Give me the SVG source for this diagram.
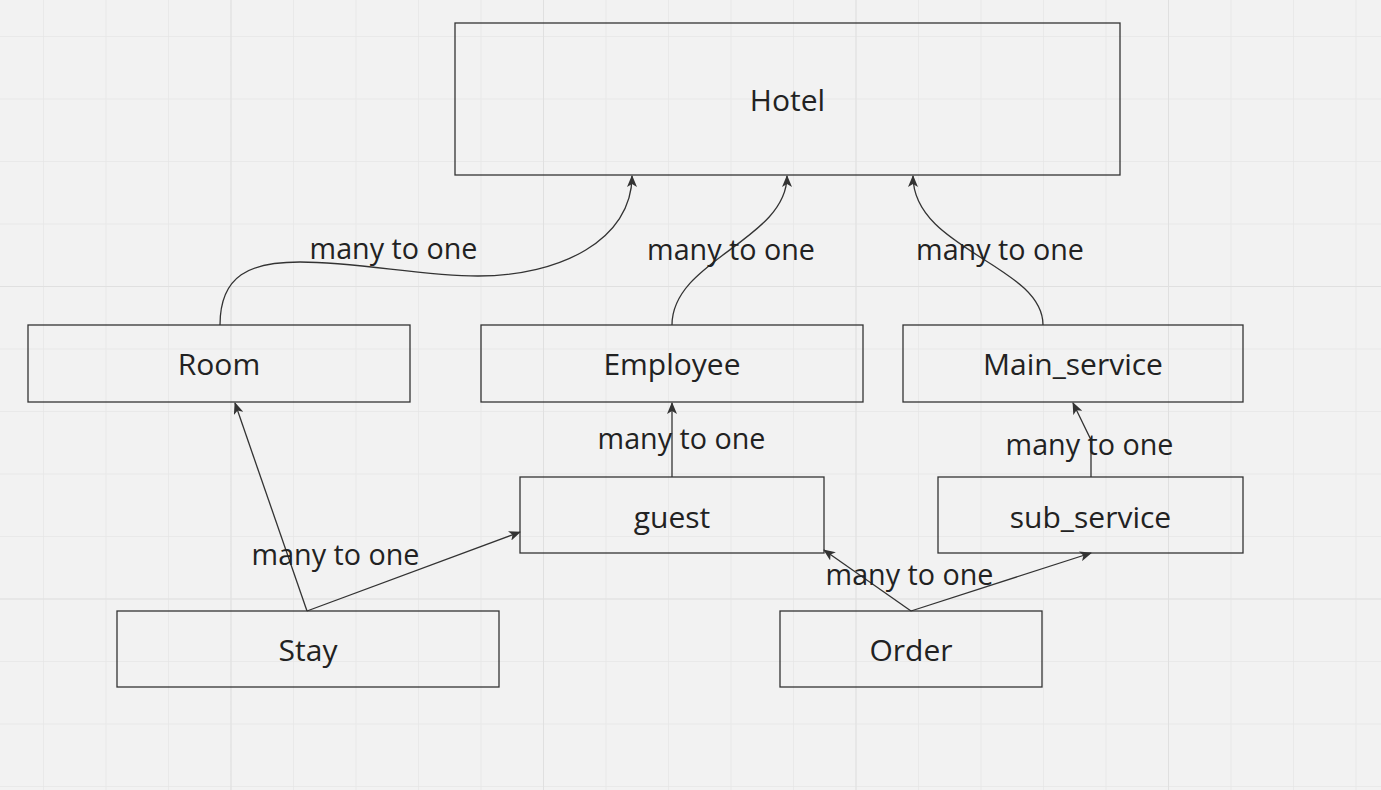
<svg xmlns="http://www.w3.org/2000/svg" width="1381" height="790" viewBox="0 0 1381 790">
<defs>
<pattern id="minor" x="43" y="36" width="62.5" height="62.5" patternUnits="userSpaceOnUse">
<path d="M0,0 V62.5 M0,0 H62.5" fill="none" stroke="#e6e6e6" stroke-width="1.5"/>
</pattern>
<pattern id="major" x="230.5" y="-26.5" width="312.5" height="312.5" patternUnits="userSpaceOnUse">
<path d="M0,0 V312.5 M0,0 H312.5" fill="none" stroke="#e0e0e0" stroke-width="2"/>
</pattern>
<marker id="arr" viewBox="0 0 12 10" refX="11" refY="5" markerWidth="12" markerHeight="10" markerUnits="userSpaceOnUse" orient="auto">
<path d="M0,0 L12,5 L0,10 L3,5 Z" fill="#333"/>
</marker>
</defs>
<style>
.box{fill:none;stroke:#333;stroke-width:1.3}
.lbl{font-family:"Open Sans",sans-serif;font-size:28.7px;fill:#222;text-anchor:middle}
.node{font-family:"Open Sans",sans-serif;font-size:30px;fill:#222;text-anchor:middle}
.edge{fill:none;stroke:#333;stroke-width:1.3;marker-end:url(#arr)}
</style>
<rect width="1381" height="790" fill="#f2f2f2"/>
<rect width="1381" height="790" fill="url(#minor)"/>
<rect width="1381" height="790" fill="url(#major)"/>

<g id="connectors">
<path class="edge" d="M220,325 C220,275 250,262 300,262 C360,262 420,276 478,276 C560,276 632,240 632,176"/>
<path class="edge" d="M672,325 C672,260 787,240 787,176"/>
<path class="edge" d="M1043,325 C1043,265 913,250 913,176"/>
<path class="edge" d="M672,477 L672,403"/>
<path class="edge" d="M1091,477 L1091,440 L1073,403"/>
<path class="edge" d="M307,611 L235,403"/>
<path class="edge" d="M307,611 L520,532"/>
<path class="edge" d="M911,611 L824,550"/>
<path class="edge" d="M911,611 L1091,553"/>
<text class="lbl" x="393.5" y="259">many to one</text>
<text class="lbl" x="731" y="260">many to one</text>
<text class="lbl" x="1000" y="260">many to one</text>
<text class="lbl" x="681.5" y="449">many to one</text>
<text class="lbl" x="1089.5" y="455">many to one</text>
<text class="lbl" x="335.5" y="565">many to one</text>
<text class="lbl" x="909.5" y="585">many to one</text>
</g>

<g id="hotel"><rect class="box" x="455" y="23" width="665" height="152"/><text class="node" x="787.5" y="110.5">Hotel</text></g>
<g id="room"><rect class="box" x="28" y="325" width="382" height="77"/><text class="node" x="219" y="374.5">Room</text></g>
<g id="employee"><rect class="box" x="481" y="325" width="382" height="77"/><text class="node" x="672" y="374.5">Employee</text></g>
<g id="main_service"><rect class="box" x="903" y="325" width="340" height="77"/><text class="node" x="1073" y="374.5">Main_service</text></g>
<g id="guest"><rect class="box" x="520" y="477" width="304" height="76"/><text class="node" x="672" y="527.5">guest</text></g>
<g id="sub_service"><rect class="box" x="938" y="477" width="305" height="76"/><text class="node" x="1090.5" y="527.5">sub_service</text></g>
<g id="stay"><rect class="box" x="117" y="611" width="382" height="76"/><text class="node" x="308" y="660.5">Stay</text></g>
<g id="order"><rect class="box" x="780" y="611" width="262" height="76"/><text class="node" x="911" y="660.5">Order</text></g>
</svg>
